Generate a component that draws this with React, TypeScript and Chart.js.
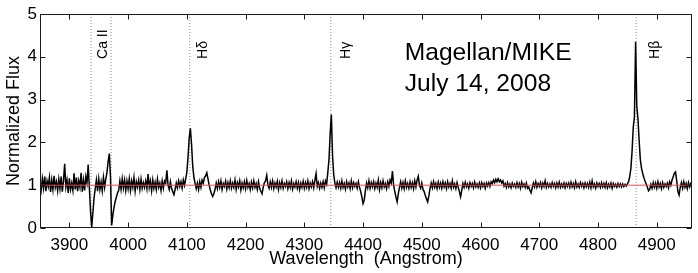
import React, { useEffect, useRef } from "react";
import { Chart, registerables } from "chart.js";

Chart.register(...registerables);

const FONT = '"Liberation Sans", Arial, Helvetica, sans-serif';

// Spectrum sampling grid (Angstrom)
const WAVE_START = 3850;
const WAVE_STEP = 2;

// Normalized flux, one row = 30 Angstrom (15 samples)
const FLUX: number[] = [
  1.05, 0.88, 1.15, 0.93, 1.2, 0.86, 1.1, 0.97, 1.18, 0.84, 1.12, 0.9, 1.22, 0.95, 1.08,
  0.87, 1.14, 0.92, 1.2, 0.85, 1.1, 1.5, 0.96, 1.12, 0.82, 1.16, 0.9, 1.05, 0.88, 1.28,
  0.9, 1.18, 0.86, 1.1, 0.95, 1.29, 0.85, 1.12, 0.88, 1.2, 1.05, 1.48, 0.95, 0.4, 0.02,
  0.35, 0.7, 0.92, 1.12, 0.86, 1.15, 0.9, 1.08, 0.87, 1.18, 0.95, 1.15, 1.3, 1.55, 1.74,
  1.2, 0.06, 0.3, 0.48, 0.62, 0.72, 0.82, 0.88, 1.1, 0.9, 1.15, 0.93, 1.12, 0.88, 1.1,
  0.92, 1.15, 0.88, 1.1, 0.95, 1.18, 0.86, 1.08, 0.96, 1.12, 0.9, 1.14, 0.93, 1.06, 0.95,
  1.1, 0.92, 1.26, 0.95, 1.1, 0.87, 1.12, 0.93, 1.07, 0.9, 1.14, 0.95, 1.05, 0.88, 1.1,
  0.93, 1.1, 1.05, 1.35, 1.0, 0.9, 1.08, 0.92, 0.85, 0.78, 0.9, 1.05, 0.94, 1.1, 0.97,
  1.08, 0.93, 1.12, 1.0, 1.15, 1.3, 1.65, 2.1, 2.33, 1.95, 1.45, 1.18, 1.05, 0.92, 1.05,
  0.9, 1.08, 0.95, 1.12, 1.05, 1.18, 1.22, 1.29, 1.15, 1.0, 0.88, 0.8, 0.74, 0.8, 0.9,
  1.05, 0.92, 1.08, 0.95, 1.1, 0.9, 1.04, 0.97, 1.09, 0.91, 1.06, 0.94, 1.1, 0.93, 1.05,
  0.95, 1.12, 0.9, 1.06, 0.96, 1.1, 0.89, 1.05, 0.94, 1.08, 0.92, 1.11, 0.95, 1.04, 0.9,
  1.07, 0.94, 1.1, 0.95, 1.04, 0.9, 1.08, 0.93, 0.86, 0.8, 0.95, 1.06, 1.1, 1.23, 1.0,
  0.93, 1.08, 0.95, 1.1, 0.92, 1.05, 0.96, 1.09, 0.9, 1.06, 0.95, 1.1, 0.93, 1.04, 0.97,
  1.08, 0.92, 1.06, 0.95, 1.1, 0.91, 1.04, 0.96, 1.08, 0.93, 1.06, 0.9, 1.05, 0.95, 1.09,
  0.93, 1.06, 0.95, 1.1, 0.92, 1.05, 0.96, 1.08, 0.94, 1.12, 1.27, 0.97, 1.06, 0.93, 1.05,
  0.95, 1.08, 0.94, 1.1, 1.02, 1.3, 1.6, 2.2, 2.65, 1.7, 1.25, 1.05, 0.94, 1.07, 0.95,
  1.06, 0.93, 1.1, 0.95, 1.04, 0.91, 1.08, 0.96, 1.05, 0.92, 1.1, 0.94, 1.06, 0.97, 1.04,
  0.93, 1.08, 0.95, 0.85, 0.72, 0.57, 0.65, 0.88, 1.05, 0.94, 1.1, 0.93, 1.06, 0.96, 1.08,
  0.92, 1.05, 0.95, 1.12, 0.9, 1.06, 0.94, 1.1, 0.96, 1.04, 0.92, 1.08, 0.97, 1.12, 1.05,
  1.33, 1.0, 0.85, 0.72, 0.61, 0.8, 0.95, 1.08, 0.93, 1.06, 0.92, 1.1, 0.95, 1.04, 0.93,
  1.08, 0.95, 1.06, 0.92, 1.1, 0.96, 1.12, 1.21, 1.0, 0.93, 1.05, 0.9, 0.85, 0.76, 0.68,
  0.61, 0.75, 0.92, 1.05, 0.94, 1.08, 0.95, 1.04, 0.92, 1.07, 0.95, 1.05, 0.93, 1.08, 0.96,
  1.05, 0.92, 1.08, 0.96, 1.04, 0.93, 1.1, 0.95, 1.03, 0.92, 1.06, 0.95, 0.85, 0.73, 0.88,
  1.04, 0.95, 1.07, 0.96, 1.03, 0.93, 1.06, 0.97, 1.04, 0.94, 1.07, 0.96, 1.03, 0.95, 1.05,
  0.94, 1.06, 0.97, 1.04, 0.93, 1.05, 0.98, 1.06, 0.97, 1.08, 1.04, 1.12, 1.06, 1.14, 1.08,
  1.15, 1.08, 1.12, 1.05, 1.1, 0.98, 1.04, 0.95, 1.06, 0.96, 1.03, 0.94, 1.05, 0.97, 1.03,
  0.95, 1.06, 0.96, 1.04, 0.93, 1.07, 0.97, 1.03, 0.95, 1.05, 0.93, 0.96, 0.88, 0.82, 0.94,
  1.05, 0.96, 1.08, 0.95, 1.04, 0.97, 1.06, 0.94, 1.05, 0.97, 1.1, 0.95, 1.04, 0.96, 1.03,
  0.95, 1.06, 0.97, 1.04, 0.94, 1.05, 0.96, 1.07, 0.95, 1.03, 0.96, 1.05, 0.94, 1.04, 0.97,
  1.05, 0.95, 1.07, 0.96, 1.04, 0.94, 1.08, 0.96, 1.03, 0.95, 1.06, 0.97, 1.04, 0.94, 1.05,
  0.96, 1.04, 0.95, 1.07, 0.94, 1.1, 0.96, 1.03, 0.93, 1.05, 0.97, 1.04, 0.95, 1.06, 0.96,
  1.04, 0.95, 1.06, 0.94, 1.03, 0.96, 1.05, 0.93, 1.04, 0.97, 1.02, 0.95, 1.04, 0.97, 1.03,
  0.96, 1.03, 0.97, 1.02, 0.98, 1.03, 1.08, 1.2, 1.4, 1.8, 2.35, 2.6, 4.35, 2.85, 2.55,
  2.05, 1.6, 1.4, 1.28, 1.18, 1.1, 1.03, 0.95, 0.87, 0.9, 1.02, 0.93, 1.06, 0.95, 1.05,
  0.93, 1.08, 0.96, 1.04, 0.92, 1.06, 0.95, 1.03, 0.97, 1.05, 0.94, 1.08, 1.0, 1.12, 1.2,
  1.28, 1.31, 1.1, 0.85, 0.77, 0.95, 1.06, 0.93, 1.08, 0.95, 1.04, 0.92, 1.06, 0.96, 1.04,
  1.0,
];

const X_MIN = 3850;
const X_MAX = 4960;
const Y_MIN = 0;
const Y_MAX = 5;
const X_TICKS = [3900, 4000, 4100, 4200, 4300, 4400, 4500, 4600, 4700, 4800, 4900];
const Y_TICKS = [0, 1, 2, 3, 4, 5];
const CONTINUUM = 1;

// Marked spectral lines
const LINE_WAVES = [3937, 3971, 4105, 4345, 4865];
const LINE_LABELS = ["Ca II", "H\u03b4", "H\u03b3", "H\u03b2"];
const LABEL_WAVES = [3958, 4128, 4371, 4898];
const LABEL_BASE_FLUX = 3.95;

// Big annotation text
const NOTE_LINES = ["Magellan/MIKE", "July 14, 2008"];
const NOTE_WAVE = 4471;
const NOTE_FLUX = [3.93, 3.2];

const X_TITLE = "Wavelength  (Angstrom)";
const Y_TITLE = "Normalized Flux";

export default function App() {
  const ref = useRef<HTMLCanvasElement>(null);

  useEffect(() => {
    const canvas = ref.current;
    if (!canvas) return;

    const spectrum = FLUX.map((f, i) => ({ x: WAVE_START + i * WAVE_STEP, y: f }));
    const dottedSets = LINE_WAVES.map((w) => ({
      type: "line" as const,
      data: [
        { x: w, y: Y_MIN },
        { x: w, y: Y_MAX },
      ],
      borderColor: "#8a8a8a",
      borderWidth: 1,
      borderDash: [1, 2],
      pointRadius: 0,
      order: 2,
    }));

    const overlay = {
      id: "overlay",
      afterDatasetsDraw(chart: any) {
        const { ctx, chartArea } = chart;
        const xs = chart.scales.x;
        const ys = chart.scales.y;
        const { left, right, top, bottom } = chartArea;
        ctx.save();
        // frame
        ctx.strokeStyle = "#1a1a1a";
        ctx.lineWidth = 1;
        const L = Math.round(left) + 0.5;
        const R = Math.round(right) - 0.5;
        const T = Math.round(top) + 0.5;
        const B = Math.round(bottom) - 0.5;
        ctx.strokeRect(L, T, R - L, B - T);
        // inside ticks
        ctx.beginPath();
        X_TICKS.forEach((v) => {
          const px = Math.round(xs.getPixelForValue(v)) + 0.5;
          ctx.moveTo(px, B);
          ctx.lineTo(px, B - 5);
          ctx.moveTo(px, T);
          ctx.lineTo(px, T + 5);
        });
        Y_TICKS.forEach((v) => {
          const py = Math.round(ys.getPixelForValue(v)) + 0.5;
          ctx.moveTo(L, py);
          ctx.lineTo(L + 5, py);
          ctx.moveTo(R, py);
          ctx.lineTo(R - 5, py);
        });
        ctx.stroke();

        // line labels
        ctx.fillStyle = "#000";
        ctx.font = `14px ${FONT}`;
        ctx.textAlign = "left";
        ctx.textBaseline = "middle";
        LINE_LABELS.forEach((lab, i) => {
          const px = xs.getPixelForValue(LABEL_WAVES[i]);
          const py = ys.getPixelForValue(LABEL_BASE_FLUX);
          ctx.save();
          ctx.translate(px, py);
          ctx.rotate(-Math.PI / 2);
          ctx.fillText(lab, 0, 0);
          ctx.restore();
        });

        // big note
        ctx.font = `24.6px ${FONT}`;
        ctx.textBaseline = "alphabetic";
        NOTE_LINES.forEach((t, i) => {
          ctx.fillText(t, xs.getPixelForValue(NOTE_WAVE), ys.getPixelForValue(NOTE_FLUX[i]));
        });
        ctx.restore();
      },
    };

    const chart = new Chart(canvas, {
      type: "line",
      data: {
        datasets: [
          {
            data: [
              { x: X_MIN, y: CONTINUUM },
              { x: X_MAX, y: CONTINUUM },
            ],
            borderColor: "rgb(232, 80, 80)",
            borderWidth: 1,
            pointRadius: 0,
            order: 0,
          },
          {
            data: spectrum,
            borderColor: "#000",
            borderWidth: 1.5,
            pointRadius: 0,
            tension: 0,
            order: 1,
          },
          ...dottedSets,
        ] as any,
      },
      options: {
        responsive: false,
        maintainAspectRatio: false,
        devicePixelRatio: 1,
        animation: false,
        events: [],
        layout: { padding: { top: 14, right: 6, left: 0, bottom: 0 } },
        plugins: { legend: { display: false }, tooltip: { enabled: false } },
        scales: {
          x: {
            type: "linear",
            min: X_MIN,
            max: X_MAX,
            afterBuildTicks: (s: any) => {
              s.ticks = X_TICKS.map((v) => ({ value: v }));
            },
            afterFit: (s: any) => {
              s.height = 45;
            },
            grid: { display: false, drawTicks: false },
            border: { display: false },
            ticks: {
              autoSkip: false,
              maxRotation: 0,
              padding: 7,
              color: "#000",
              font: { family: FONT, size: 17 },
              callback: (v: any) => String(v),
            },
            title: {
              display: true,
              text: X_TITLE,
              color: "#000",
              font: { family: FONT, size: 18 },
              padding: { top: 0, bottom: 3 },
            },
          },
          y: {
            type: "linear",
            min: Y_MIN,
            max: Y_MAX,
            afterBuildTicks: (s: any) => {
              s.ticks = Y_TICKS.map((v) => ({ value: v }));
            },
            afterFit: (s: any) => {
              s.width = 40;
            },
            grid: { display: false, drawTicks: false },
            border: { display: false },
            ticks: {
              padding: 3,
              color: "#000",
              font: { family: FONT, size: 17 },
              callback: (v: any) => String(v),
            },
            title: {
              display: true,
              text: Y_TITLE,
              color: "#000",
              font: { family: FONT, size: 18 },
              padding: { top: 3, bottom: 0 },
            },
          },
        },
      },
      plugins: [overlay],
    } as any);

    return () => chart.destroy();
  }, []);

  return (
    <div style={{ position: "absolute", left: 0, top: 0, width: 698, height: 273, background: "#fff" }}>
      <canvas ref={ref} width={698} height={273} style={{ display: "block", width: 698, height: 273 }} />
    </div>
  );
}
